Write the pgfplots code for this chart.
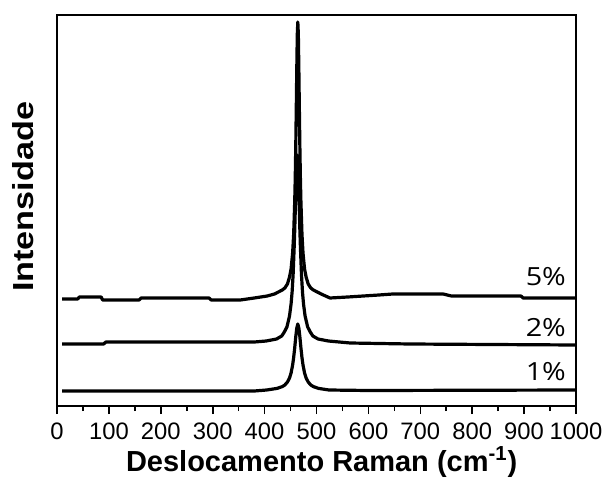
\documentclass[border=0pt]{standalone}
\usepackage{fontspec}
\setmainfont{Liberation Sans}
\newfontfamily\pctfont{Open Sans}
\usepackage{graphicx}
\usepackage{pgfplots}
\pgfplotsset{compat=1.18}
\begin{document}
\begin{tikzpicture}
\begin{axis}[name=ax, scale only axis, width=259.5pt, height=195.5pt,
  xmin=0, xmax=1000, ymin=0, ymax=391,
  xtick={0,100,...,1000}, minor x tick num=1, ytick=\empty,
  xtick pos=bottom, tick align=outside,
  major tick length=4pt, minor tick length=2.5pt,
  line width=1.3pt,
  every tick/.style={black, line width=0.8pt},
  /pgf/number format/assume math mode=true,
  /pgf/number format/1000 sep={},
  xticklabel style={font=\fontsize{11.9}{13}\selectfont, yshift=-0.5pt},
  xlabel={\fontsize{14.5}{16}\selectfont\bfseries Deslocamento Raman (cm\textsuperscript{-1})},
  ylabel={\fontsize{14.5}{16}\selectfont\bfseries \scalebox{1.18}[1]{Intensidade}},
  xlabel style={at={(axis description cs:0.51,-0.143)}, anchor=center},
  ylabel style={at={(axis description cs:-0.0655,0.535)}, anchor=center},
]
\addplot[black, line width=1.6pt, line join=round] coordinates {
(10,107)(40,107)(43,109)(85,109)(88,106)(158,106)(162,108)(293,108)(297,106)(353,106)(380,108)(405,110)(419,112)(434,116)(439,118)(444,122)(448,129)(451,137)(454,153)(456,172)(458,204)(459,227)(460,258)(461,296)(462,337)(463,372)(464,384)(465,372)(466,337)(467,296)(468,258)(469,227)(470,204)(472,172)(474,153)(477,137)(480,129)(484,122)(489,118)(494,116)(509,112)(526,108)(560,109)(590,110)(620,111)(647,112)(744,112)(760,110)(894,110)(898,108)(1000,108)
};
\addplot[black, line width=1.6pt, line join=round] coordinates {
(10,62)(90,62)(94,64)(380,64)(403,65)(423,67)(433,70)(438,74)(443,79)(448,90)(451,102)(453,114)(455,132)(457,159)(458,175)(459,194)(460,214)(461,233)(462,246)(463,251)(464,246)(465,233)(466,214)(467,194)(468,175)(469,159)(471,132)(473,114)(475,102)(478,90)(483,79)(488,74)(493,70)(503,67)(523,65)(565,63)(680,62)(1000,61)
};
\addplot[black, line width=1.6pt, line join=round] coordinates {
(10,15)(380,15)(404,16)(424,17.6)(434,19.4)(439,21)(444,24)(448,28)(451,33)(454,41)(456,48.5)(458,58)(460,69)(462,78)(464,82)(466,78)(468,69)(470,58)(472,48.5)(474,41)(477,33)(480,28)(484,24)(489,21)(494,19.4)(504,17.6)(524,16)(600,15.5)(1000,16)
};
\node[anchor=east, inner sep=0pt, font=\pctfont\fontsize{12.5}{13}\selectfont] at (axis cs:983,129) {\scalebox{1.15}[1]{5\%}};
\node[anchor=east, inner sep=0pt, font=\pctfont\fontsize{12.5}{13}\selectfont] at (axis cs:983,78) {\scalebox{1.15}[1]{2\%}};
\node[anchor=east, inner sep=0pt, font=\pctfont\fontsize{12.5}{13}\selectfont] at (axis cs:983,34) {\scalebox{1.15}[1]{1\%}};
\end{axis}
\pgfresetboundingbox
\path ([xshift=-28.5pt,yshift=-36pt]ax.south west) rectangle ([xshift=17.5pt,yshift=7.5pt]ax.north east);
\end{tikzpicture}
\end{document}
